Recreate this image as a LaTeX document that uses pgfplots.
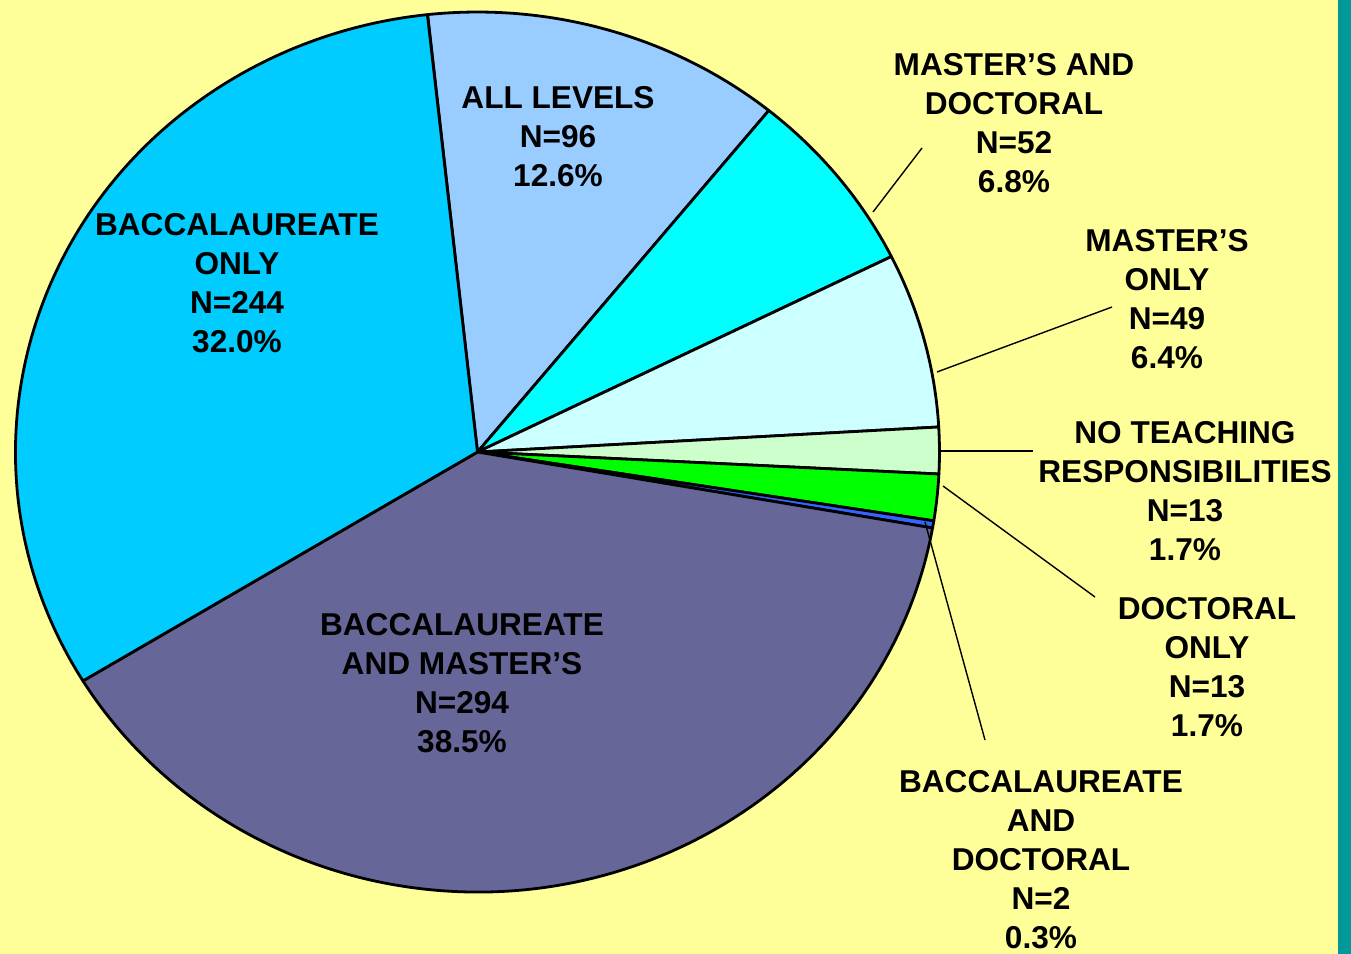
\documentclass[border=0pt]{standalone}
\usepackage{pgfplots}
\usepackage{pgfplotstable}
\pgfplotsset{compat=1.18}
\usepackage{fontspec}
\setmainfont{Liberation Sans}
\definecolor{bgyellow}{HTML}{FFFF99}
\definecolor{tealbar}{HTML}{009999}
\definecolor{slice0}{HTML}{99CCFF}
\definecolor{slice1}{HTML}{00FFFF}
\definecolor{slice2}{HTML}{CCFFFF}
\definecolor{slice3}{HTML}{CCFFCC}
\definecolor{slice4}{HTML}{00FF00}
\definecolor{slice5}{HTML}{3366FF}
\definecolor{slice6}{HTML}{666699}
\definecolor{slice7}{HTML}{00CCFF}
% slices clockwise from the top
\pgfplotstableread{
label value
AllLevels 96
MastersDoctoral 52
MastersOnly 49
NoTeaching 13
DoctoralOnly 13
BaccDoctoral 2
BaccMasters 294
BaccOnly 244
}\piedata
\begin{document}
\begin{tikzpicture}
\begin{scope}[x=0.5pt,y=-0.5pt]
\fill[bgyellow] (0,0) rectangle (1351,954);
\fill[tealbar] (1338,0) rectangle (1351,954);
\end{scope}
% cumulative angles
\xdef\cur{96.2}
\foreach \i in {0,...,7}{
  \pgfplotstablegetelem{\i}{value}\of\piedata
  \pgfmathsetmacro\nxt{\cur-\pgfplotsretval/763*360}
  \expandafter\xdef\csname angA\i\endcsname{\cur}
  \expandafter\xdef\csname angB\i\endcsname{\nxt}
  \xdef\cur{\nxt}
}
\begin{axis}[
  at={(238.75pt,-226pt)}, anchor=origin,
  scale only axis, width=462pt, height=440pt,
  xmin=-1, xmax=1, ymin=-1, ymax=1,
  hide axis, clip=false]
\pgfplotsinvokeforeach{0,...,7}{
  \filldraw[fill=slice#1, draw=black, line width=1.4pt, line join=round]
    (axis cs:0,0) -- (axis cs:{cos(\csname angA#1\endcsname)},{sin(\csname angA#1\endcsname)})
    arc[start angle=\csname angA#1\endcsname, end angle=\csname angB#1\endcsname, radius=1] -- cycle;
}
\end{axis}
\begin{scope}[x=0.5pt,y=-0.5pt,
  lbl/.style={align=center, inner sep=0pt, font=\fontsize{15.8}{19.5}\selectfont\bfseries}]
\draw[line width=0.7pt] (873,212) -- (922,148);
\draw[line width=0.7pt] (937,372) -- (1112,307);
\draw[line width=0.7pt] (939,451) -- (1033,451);
\draw[line width=0.7pt] (943,486) -- (1095,597);
\draw[line width=0.7pt] (925,522) -- (985,740);
\node[lbl] at (558,137) {ALL LEVELS\\N=96\\12.6\%};
\node[lbl] at (237,283.5) {BACCALAUREATE\\ONLY\\N=244\\32.0\%};
\node[lbl] at (1014,123.5) {MASTER’S AND\\DOCTORAL\\N=52\\6.8\%};
\node[lbl] at (1167,299.5) {MASTER’S\\ONLY\\N=49\\6.4\%};
\node[lbl] at (1185,491.5) {NO TEACHING\\RESPONSIBILITIES\\N=13\\1.7\%};
\node[lbl] at (1207,667.5) {DOCTORAL\\ONLY\\N=13\\1.7\%};
\node[lbl] at (1041,859.5) {BACCALAUREATE\\AND\\DOCTORAL\\N=2\\0.3\%};
\node[lbl] at (462,683.5) {BACCALAUREATE\\AND MASTER’S\\N=294\\38.5\%};
\pgfresetboundingbox
\path[use as bounding box] (0,0) rectangle (1351,954);
\end{scope}
\end{tikzpicture}
\end{document}
